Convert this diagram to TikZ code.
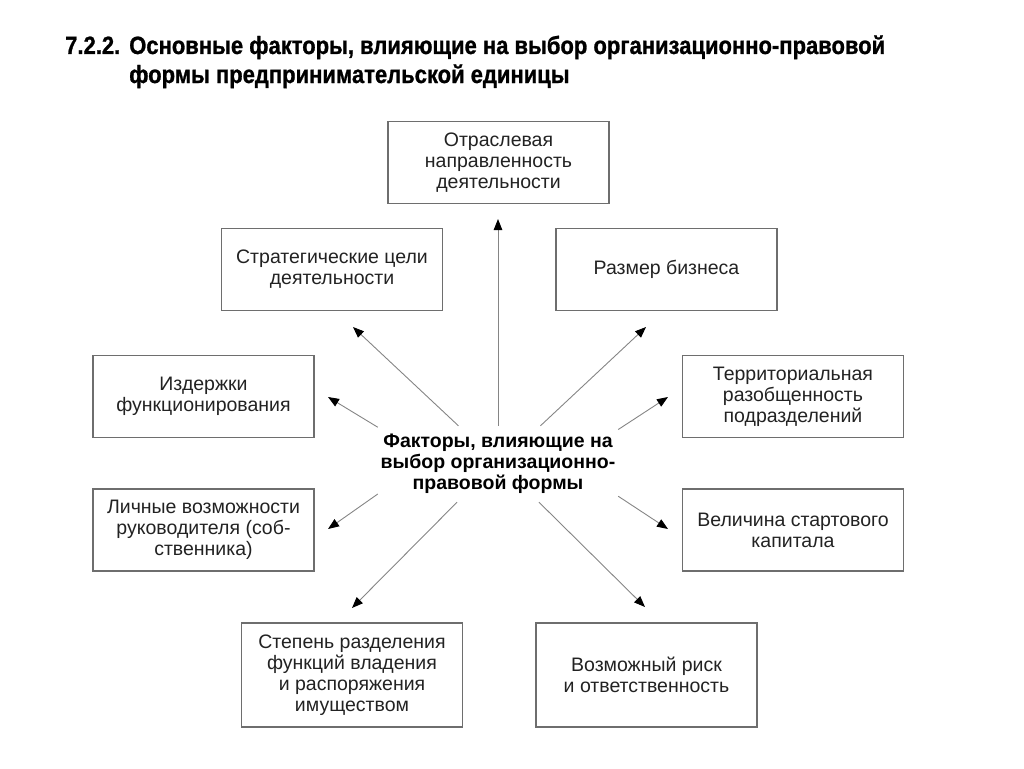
\documentclass[tikz,border=0pt]{standalone}
\usepackage{fontspec}
\setmainfont{Liberation Sans}
\newfontfamily\titlefont[FakeStretch=0.88, FakeBold=1]{Liberation Sans}
\usetikzlibrary{arrows.meta}
\definecolor{framegray}{HTML}{6E6E6E}
\definecolor{linegray}{HTML}{858585}
\definecolor{inkgray}{HTML}{222222}
\tikzset{
  factor/.style={draw=framegray, line width=1.1pt, minimum width=221pt,
    minimum height=82pt, inner sep=0pt, align=center, text=inkgray,
    font=\fontsize{19.5}{21}\selectfont},
  tall/.style={factor, minimum height=104pt},
  influence/.style={draw=linegray, line width=0.9pt,
    -{Triangle[length=11pt, width=8.5pt, color=black]}},
}

\begin{document}
\begin{tikzpicture}[x=1pt, y=-1pt]
    \useasboundingbox (0,0) rectangle (1024,768);

    \node[anchor=base west, inner sep=0pt] (title) at (65,54)
      {\titlefont\bfseries\fontsize{25}{29}\selectfont
       \begin{tabular}[t]{@{}l@{\hspace{9pt}}l@{}}
         7.2.2. & Основные факторы, влияющие на выбор организационно-правовой\\
                & формы предпринимательской единицы
       \end{tabular}};

    \node[font=\bfseries\fontsize{19.5}{21}\selectfont, align=center,
      minimum width=240pt, minimum height=76pt, inner sep=0pt] (hub) at (498,464)
      {Факторы, влияющие на\\выбор организационно-\\правовой формы};

    \node[factor] (branch) at (498.5,162.5) {Отраслевая\\направленность\\деятельности};
    \node[factor] (goals) at (332,269.5) {Стратегические цели\\деятельности};
    \node[factor] (size) at (666.5,269.5) {Размер бизнеса};
    \node[factor] (costs) at (203.5,396.5) {Издержки\\функционирования};
    \node[factor] (units) at (793,396.5) {Территориальная\\разобщенность\\подразделений};
    \node[factor] (owner) at (203.5,530) {Личные возможности\\руководителя (соб-\\ственника)};
    \node[factor] (capital) at (793,530) {Величина стартового\\капитала};
    \node[tall] (control) at (352,675) {Степень разделения\\функций владения\\и распоряжения\\имуществом};
    \node[tall] (risk) at (646.5,675) {Возможный риск\\и ответственность};

    % arrow tips, just short of the boxes
    \coordinate (branch-in) at (498,219);
    \coordinate (goals-in) at (353,327);
    \coordinate (size-in) at (646,327);
    \coordinate (costs-in) at (328,397);
    \coordinate (units-in) at (668,397);
    \coordinate (owner-in) at (328,529);
    \coordinate (capital-in) at (668,529);
    \coordinate (control-in) at (352,608);
    \coordinate (risk-in) at (645,607);

    \draw[influence] (hub.north) -- (branch-in);
    \draw[influence] (hub.136.5) -- (goals-in);
    \draw[influence] (hub.42.8) -- (size-in);
    \draw[influence] (hub.163.2) -- (costs-in);
    \draw[influence] (hub.16.7) -- (units-in);
    \draw[influence] (hub.194.3) -- (owner-in);
    \draw[influence] (hub.345.7) -- (capital-in);
    \draw[influence] (hub.223.6) -- (control-in);
    \draw[influence] (hub.317.2) -- (risk-in);
\end{tikzpicture}
\end{document}
